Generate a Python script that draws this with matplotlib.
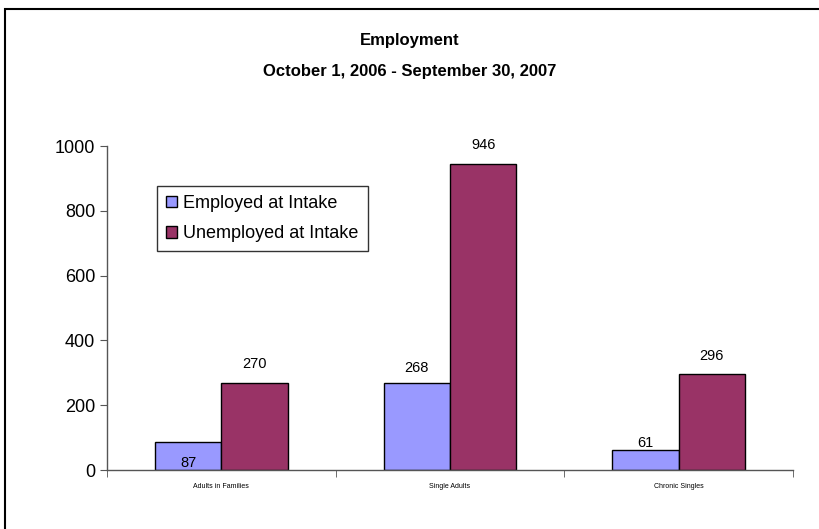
import matplotlib.pyplot as plt
import numpy as np
from matplotlib.patches import Rectangle

plt.rcParams['font.family'] = ['Liberation Sans', 'DejaVu Sans']

# Data
categories = ['Adults in Families', 'Single Adults', 'Chronic Singles']
employed = [87, 268, 61]
unemployed = [270, 946, 296]
series_names = ['Employed at Intake', 'Unemployed at Intake']
y_ticks = [0, 200, 400, 600, 800, 1000]

# label offsets (points) to mimic where the original placed them
employed_offsets = [-20, 6, 0]
unemployed_offsets = [8, 8, 8]

BLUE = '#9999FF'
RED = '#993366'

fig = plt.figure(figsize=(8.2, 5.29), dpi=100)
ax = fig.add_axes([0.1305, 0.1115, 0.8365, 0.6125])

# outer chart border (right and bottom run off the picture)
fig.patches.append(Rectangle((0.006, -0.1), 1.2, 1.083, transform=fig.transFigure,
                             fill=False, edgecolor='black', linewidth=1.5))

x = np.arange(len(categories))
w = 0.29
b1 = ax.bar(x - w / 2, employed, w, color=BLUE, edgecolor='black', linewidth=1,
            label=series_names[0])
b2 = ax.bar(x + w / 2, unemployed, w, color=RED, edgecolor='black', linewidth=1,
            label=series_names[1])

for rect, v, off in zip(b1, employed, employed_offsets):
    ax.annotate(str(v), (rect.get_x() + rect.get_width() / 2, v),
                xytext=(0, off), textcoords='offset points',
                ha='center', va='bottom', fontsize=10.5)
for rect, v, off in zip(b2, unemployed, unemployed_offsets):
    ax.annotate(str(v), (rect.get_x() + rect.get_width() / 2, v),
                xytext=(0, off), textcoords='offset points',
                ha='center', va='bottom', fontsize=10.5)

ax.set_xlim(-0.5, len(categories) - 0.5)
ax.set_ylim(0, 1000)
ax.set_yticks(y_ticks)
ax.tick_params(axis='y', labelsize=13, length=5, direction='out', color='#555555')

ax.set_xticks(x)
ax.set_xticklabels(categories, fontsize=5, fontstretch='condensed')
ax.set_xticks(np.arange(len(categories) + 1) - 0.5, minor=True)
ax.tick_params(axis='x', which='major', length=0, pad=9)
ax.tick_params(axis='x', which='minor', length=5, direction='out', color='#555555')

for s in ['top', 'right']:
    ax.spines[s].set_visible(False)
for s in ['left', 'bottom']:
    ax.spines[s].set_color('#555555')
    ax.spines[s].set_linewidth(1)

leg = ax.legend(loc='upper left', bbox_to_anchor=(0.073, 0.877), borderaxespad=0,
                fancybox=False, frameon=True, edgecolor='black', fontsize=13,
                handlelength=0.6, handleheight=0.6, handletextpad=0.35,
                labelspacing=0.75, borderpad=0.5)
leg.get_frame().set_linewidth(1)

fig.text(0.5, 0.924, 'Employment', ha='center', va='center',
         fontsize=12, fontweight='bold')
fig.text(0.5, 0.864, 'October 1, 2006 - September 30, 2007', ha='center',
         va='center', fontsize=12, fontweight='bold')

fig.savefig('out.png', dpi=100)
